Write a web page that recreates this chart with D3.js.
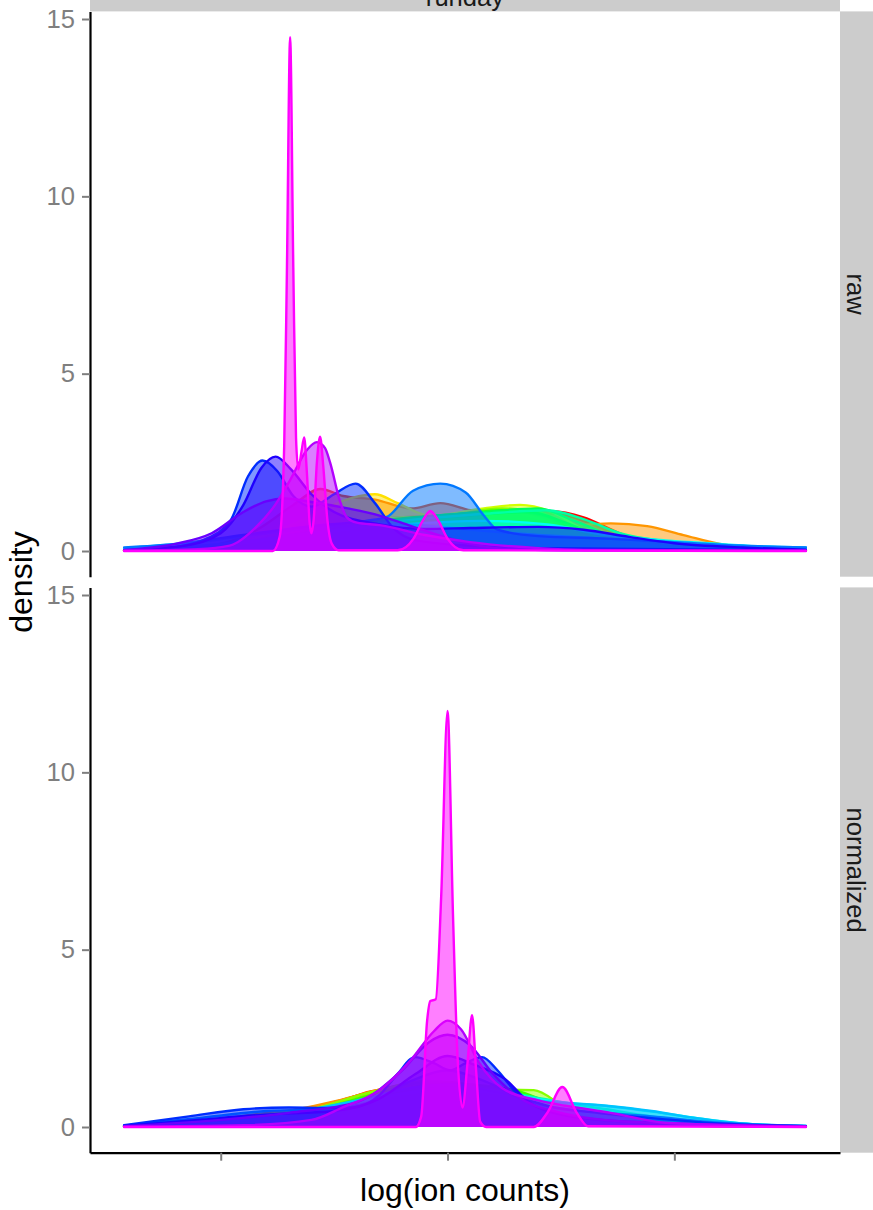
<!DOCTYPE html>
<html><head><meta charset="utf-8">
<script src="https://cdn.jsdelivr.net/npm/d3@7"></script>
<style>body{margin:0;background:#fff}svg{display:block}text{font-family:"Liberation Sans",Arial,Helvetica,sans-serif}</style>
</head><body><svg id="c" width="873" height="1210"></svg>
<script>
// ---- data ----
const runs = ["r01","r02","r03","r04","r05","r06","r07","r08","r09","r10","r11","r12","r13","r14","r15","r16","r17","r18"];
const facets = ["raw", "normalized"];
const xTicks = [5, 10, 15];
const yTicks = [0, 5, 10, 15];
const xTitle = "log(ion counts)";
const yTitle = "density";
const colTitle = "runday";

// density curves per run, [log(ion counts), density]
const rawDensity = [
 [[2.87,0.02],[4.5,0.1],[6,0.35],[7.5,0.7],[9,0.95],[10.5,1],[11.5,1.05],[12.3,1.12],[13,0.95],[13.8,0.5],[14.6,0.2],[15.5,0.08],[17.9,0.02]],
 [[2.87,0.02],[4.5,0.1],[5.8,0.6],[6.6,1.3],[7.2,1.75],[7.7,1.55],[8.4,1.45],[9.2,1.2],[9.84,1.35],[10.5,1.15],[11.3,1],[12.4,1.05],[13.1,0.8],[13.9,0.4],[14.8,0.15],[17.9,0.02]],
 [[2.87,0.01],[5,0.1],[7,0.35],[9,0.55],[11,0.62],[12.5,0.7],[13.6,0.78],[14.4,0.7],[15.2,0.45],[16,0.2],[17,0.07],[17.9,0.03]],
 [[2.87,0.01],[5,0.15],[6.5,0.7],[7.3,1.2],[7.9,1.5],[8.4,1.6],[8.9,1.35],[9.6,1],[10.5,1],[11.5,1.05],[12.5,0.7],[13.5,0.3],[15,0.08],[17.9,0.01]],
 [[2.87,0.01],[5,0.1],[7,0.5],[8.5,0.9],[9.8,1],[10.8,1.2],[11.6,1.3],[12.3,1.1],[13,0.6],[14,0.2],[15.5,0.05],[17.9,0.01]],
 [[2.87,0.01],[5,0.1],[7,0.5],[8.5,0.85],[10,1],[11.2,1.2],[12,1.1],[12.8,0.6],[13.8,0.2],[15.5,0.04],[17.9,0.01]],
 [[2.87,0.01],[5,0.12],[7,0.55],[8.8,0.9],[10.3,1.05],[11.2,1.15],[12.1,1],[13,0.5],[14,0.18],[15.5,0.05],[17.9,0.01]],
 [[2.87,0.01],[5,0.1],[7,0.45],[9,0.85],[10.5,1],[11.8,1.1],[12.6,0.8],[13.5,0.35],[14.8,0.1],[17.9,0.01]],
 [[2.87,0.01],[5,0.12],[7,0.5],[9,0.9],[10.8,1.1],[12,1.2],[12.8,0.85],[13.8,0.35],[15,0.12],[17.9,0.02]],
 [[2.87,0.02],[5,0.15],[7,0.5],[9,0.85],[10.8,1.05],[12.2,1.15],[13,0.9],[13.8,0.5],[15,0.25],[16.5,0.08],[17.9,0.02]],
 [[2.87,0.03],[5,0.2],[7,0.5],[9,0.75],[10.8,0.85],[12.2,0.75],[13.5,0.45],[14.8,0.3],[16,0.2],[17,0.12],[17.9,0.08]],
 [[2.87,0.08],[4.5,0.25],[6,0.5],[7.5,0.7],[9,0.75],[10.5,0.6],[12,0.45],[13.5,0.35],[15,0.25],[16.5,0.15],[17.9,0.1]],
 [[2.87,0.1],[4,0.2],[5.5,0.45],[7,0.7],[8.2,0.85],[8.66,0.96],[9.24,1.7],[9.84,1.9],[10.4,1.65],[10.8,1.0],[11.1,0.6],[12,0.42],[13.5,0.35],[15,0.25],[16.5,0.15],[17.9,0.1]],
 [[2.87,0.02],[4,0.12],[4.6,0.3],[5.22,0.87],[5.6,2.1],[5.92,2.55],[6.25,2.25],[6.6,1.55],[7,1.25],[7.5,1.6],[7.97,1.9],[8.4,1.35],[8.8,0.65],[9.3,0.3],[10.5,0.15],[12,0.08],[17.9,0.02]],
 [[2.87,0.02],[4.2,0.15],[5,0.5],[5.5,1.3],[5.9,2.35],[6.21,2.66],[6.55,2.3],[7,1.6],[7.5,1.1],[8.5,0.75],[9.5,0.62],[10.5,0.65],[12,0.68],[13,0.6],[14,0.4],[15,0.22],[16.5,0.1],[17.9,0.04]],
 [[2.87,0.03],[4,0.2],[4.8,0.5],[5.5,1.1],[6,1.4],[6.42,1.48],[7,1.38],[7.8,1.2],[8.5,1],[9.2,0.7],[9.8,0.45],[10.5,0.2],[11.3,0.06],[13,0.02],[17.9,0.01]],
 [[2.87,0.01],[4.5,0.05],[5.2,0.15],[5.8,0.7],[6.2,1.3],[6.53,2],[6.9,2.85],[7.12,3.07],[7.3,2.9],[7.41,2.5],[7.63,1.4],[7.78,0.95],[8,0.8],[8.5,0.73],[9.5,0.45],[10.5,0.25],[12,0.08],[13,0.03],[17.9,0.01]],
 [[2.87,0],[6.15,0],[6.3,0.4],[6.4,3],[6.46,8],[6.53,14.49],[6.6,8],[6.66,3.2],[6.71,2.3],[6.78,2.8],[6.84,3.2],[6.9,2.2],[6.96,0.8],[7,0.5],[7.05,0.9],[7.12,2.5],[7.19,3.22],[7.26,2.4],[7.35,0.9],[7.45,0.2],[7.6,0.02],[8.9,0.02],[9.25,0.35],[9.45,0.85],[9.62,1.13],[9.8,0.85],[10,0.35],[10.35,0.02],[17.9,0]]
];

const normalizedDensity = [
 [[2.87,0.01],[4.5,0.12],[6,0.35],[7.25,0.62],[8.4,1],[9.3,1.15],[10,1.2],[10.8,1],[11.8,0.6],[13,0.3],[14.5,0.1],[17.9,0.01]],
 [[2.87,0.01],[4.5,0.15],[6,0.4],[7.3,0.6],[8.3,1],[9.3,1.2],[10.1,1.25],[11,1],[12,0.55],[13.2,0.25],[14.5,0.08],[17.9,0.01]],
 [[2.87,0.01],[5,0.15],[6.5,0.45],[7.6,0.75],[8.5,1.05],[9.4,1.25],[10.2,1.2],[11.2,0.9],[12.2,0.5],[13.5,0.2],[15,0.05],[17.9,0.01]],
 [[2.87,0.01],[5,0.1],[6.5,0.35],[7.8,0.7],[8.8,1],[9.8,1.25],[10.8,1.1],[11.8,0.7],[13,0.3],[14.5,0.08],[17.9,0.01]],
 [[2.87,0.01],[5,0.1],[6.5,0.35],[7.8,0.75],[8.6,0.95],[9.8,1.2],[10.9,1.15],[11.9,0.85],[12.8,0.4],[14,0.12],[17.9,0.01]],
 [[2.87,0.01],[5,0.12],[7,0.5],[8.37,1],[9.5,1.3],[10.5,1.2],[11.3,1.05],[11.9,1.04],[12.6,0.55],[13.5,0.2],[15,0.05],[17.9,0.01]],
 [[2.87,0.01],[5,0.12],[7,0.45],[8.3,0.9],[9.5,1.25],[10.5,1.2],[11.6,1],[12.4,0.6],[13.4,0.22],[15,0.05],[17.9,0.01]],
 [[2.87,0.01],[5,0.1],[7,0.4],[8.5,0.85],[9.7,1.2],[10.7,1.15],[11.7,0.85],[12.6,0.5],[13.6,0.2],[15,0.06],[17.9,0.01]],
 [[2.87,0.02],[5,0.12],[7,0.4],[8.5,0.8],[9.8,1.15],[10.9,1.1],[12,0.8],[13,0.5],[14,0.25],[15.5,0.08],[17.9,0.01]],
 [[2.87,0.02],[5,0.15],[7,0.45],[8.6,0.85],[10,1.1],[11.2,1],[12.3,0.75],[13.5,0.5],[14.5,0.3],[15.8,0.1],[17.9,0.02]],
 [[2.87,0.02],[5,0.15],[7,0.45],[8.8,0.9],[10,1.05],[11.2,0.95],[12.5,0.7],[13.6,0.58],[14.6,0.42],[15.5,0.25],[16.5,0.1],[17.9,0.03]],
 [[2.87,0.03],[5,0.2],[6.5,0.4],[8,0.75],[9.2,1.1],[10.1,1.2],[11,1],[12,0.75],[13.5,0.6],[14.5,0.45],[15.5,0.25],[16.5,0.1],[17.9,0.03]],
 [[2.87,0.04],[4.5,0.25],[6,0.45],[7.3,0.5],[8.3,0.7],[9.2,1.3],[10,1.6],[10.8,1.3],[11.8,0.7],[13,0.45],[14.5,0.3],[16,0.12],[17.9,0.03]],
 [[2.87,0.05],[4.3,0.3],[5.5,0.5],[6.5,0.55],[7.3,0.54],[7.9,0.55],[8.5,0.9],[8.9,1.5],[9.28,1.97],[9.7,1.8],[10.05,1.6],[10.4,1.8],[10.76,1.97],[11.1,1.6],[11.5,1],[12.2,0.6],[13.3,0.4],[14.5,0.25],[16,0.1],[17.9,0.02]],
 [[2.87,0.03],[4.5,0.2],[6,0.35],[7.5,0.45],[8.5,0.8],[9.3,1.5],[10,2],[10.6,1.75],[11.27,1.35],[11.8,0.7],[12.5,0.35],[14,0.15],[17.9,0.02]],
 [[2.87,0.02],[5,0.2],[6.5,0.4],[8,0.7],[9,1.6],[9.6,2.4],[10,2.6],[10.5,2.3],[11,1.5],[11.5,0.9],[12.5,0.4],[14,0.15],[17.9,0.02]],
 [[2.87,0.01],[5.5,0.05],[7,0.2],[7.7,0.56],[8.5,1.04],[9.2,1.9],[9.7,2.7],[10,3],[10.3,2.75],[10.7,1.8],[11.2,1.1],[12,0.75],[12.6,0.6],[13.6,0.4],[14.8,0.12],[17.9,0.01]],
 [[2.87,0],[9.3,0],[9.42,0.3],[9.55,3],[9.62,3.55],[9.74,3.6],[9.86,6.5],[10,11.73],[10.12,6],[10.22,2],[10.33,0.55],[10.44,1.8],[10.54,3.15],[10.63,1.6],[10.72,0.15],[10.85,0],[11.9,0],[12.2,0.4],[12.53,1.13],[12.85,0.4],[13.1,0.02],[17.9,0]]
];

// ---- drawing ----
const svg = d3.select("#c");
const L = 90, R = 840, panelTop = 11.4, panelH = 565.3, gap = 10.7;
const facetData = [rawDensity, normalizedDensity];

const allPts = facetData.flat(2);
const xExt = d3.extent(allPts, d => d[0]);
const xPad = (xExt[1] - xExt[0]) * 0.05;
const x = d3.scaleLinear().domain([xExt[0] - xPad, xExt[1] + xPad]).range([L, R]);
const yMax = d3.max(allPts, d => d[1]);
const yDom = [-yMax * 0.05, yMax * 1.05];

const color = d3.scaleOrdinal().domain(runs)
  .range(runs.map((r, i) => d3.hsl(i * 300 / (runs.length - 1), 1, 0.5).formatHex()));

// top strip
svg.append("rect").attr("x", L).attr("y", -40).attr("width", R - L).attr("height", 40 + panelTop).attr("fill", "#CCCCCC");
svg.append("text").attr("x", (L + R) / 2).attr("y", 6).attr("text-anchor", "middle")
  .attr("font-size", 25.6).attr("fill", "#1A1A1A").text(colTitle);

facets.forEach((f, fi) => {
  const top = panelTop + fi * (panelH + gap), bottom = top + panelH;
  const y = d3.scaleLinear().domain(yDom).range([bottom, top]);
  const clipId = "clip" + fi;
  svg.append("clipPath").attr("id", clipId).append("rect")
    .attr("x", L).attr("y", top).attr("width", R - L).attr("height", panelH);
  const g = svg.append("g").attr("clip-path", `url(#${clipId})`);
  const area = d3.area().x(d => x(d[0])).y0(y(0)).y1(d => y(d[1])).curve(d3.curveMonotoneX);
  const line = d3.line().x(d => x(d[0])).y(d => y(d[1])).curve(d3.curveMonotoneX);
  facetData[fi].forEach((pts, i) => {
    const c = color(runs[i]);
    g.append("path").attr("d", area(pts)).attr("fill", c).attr("fill-opacity", 0.5).attr("stroke", "none");
    g.append("path").attr("d", line(pts)).attr("fill", "none").attr("stroke", c)
      .attr("stroke-width", 2.4).attr("stroke-linejoin", "round").attr("stroke-linecap", "round");
  });

  // y axis
  const ya = svg.append("g").attr("transform", `translate(${L},0)`)
    .call(d3.axisLeft(y).tickValues(yTicks).tickSize(8).tickSizeOuter(0).tickPadding(7));
  ya.select(".domain").attr("stroke", "#000").attr("stroke-width", 2.2);
  ya.selectAll(".tick line").attr("stroke", "#7F7F7F").attr("stroke-width", 2);
  ya.selectAll(".tick text").attr("fill", "#7F7F7F").attr("font-size", 25.6)
    .attr("font-family", "Liberation Sans, Arial, sans-serif");

  // right strip
  svg.append("rect").attr("x", R).attr("y", top).attr("width", 50).attr("height", panelH).attr("fill", "#CCCCCC");
  svg.append("text").attr("transform", `translate(${R + 16},${(top + bottom) / 2}) rotate(90)`)
    .attr("text-anchor", "middle").attr("dy", "0.35em").attr("font-size", 25.6).attr("fill", "#1A1A1A").text(f);

  if (fi === facets.length - 1) {
    const xa = svg.append("g").attr("transform", `translate(0,${bottom})`)
      .call(d3.axisBottom(x).tickValues(xTicks).tickSize(8).tickSizeOuter(0).tickFormat(""));
    xa.select(".domain").attr("stroke", "#000").attr("stroke-width", 2.2);
    xa.selectAll(".tick line").attr("stroke", "#7F7F7F").attr("stroke-width", 2);
  }
});

// titles
svg.append("text").attr("x", (L + R) / 2).attr("y", 1201).attr("text-anchor", "middle")
  .attr("font-size", 32).attr("fill", "#000").text(xTitle);
svg.append("text").attr("transform", `translate(32,${(panelTop + panelTop + 2 * panelH + gap) / 2}) rotate(-90)`)
  .attr("text-anchor", "middle").attr("font-size", 32).attr("fill", "#000").text(yTitle);
</script></body></html>
